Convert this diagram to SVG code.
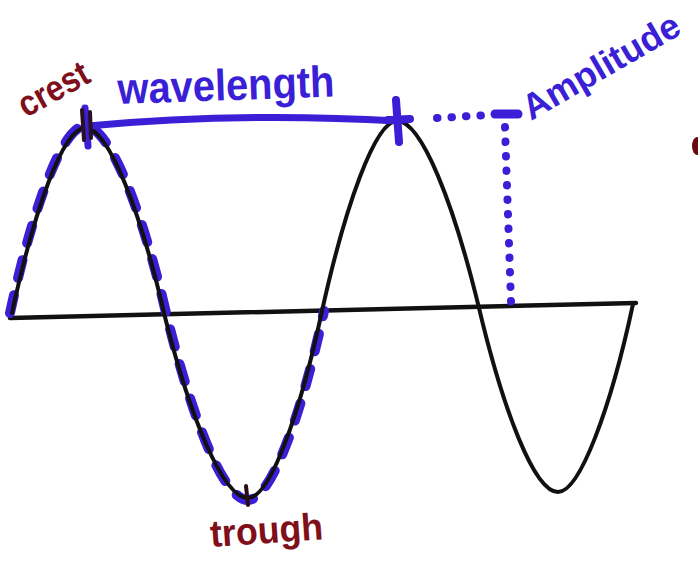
<svg xmlns="http://www.w3.org/2000/svg" width="698" height="567" viewBox="0 0 698 567">
<style>
.wave{fill:none;stroke:#111;stroke-width:4;stroke-linecap:round;stroke-linejoin:round}
.axis{fill:none;stroke:#111;stroke-width:4.5;stroke-linecap:round}
.blue{fill:none;stroke:#3a1fd6;stroke-linecap:round;stroke-linejoin:round}
.dash{stroke-width:10;stroke-dasharray:18 18}
.dots{stroke-width:8;stroke-dasharray:0.5 14}
.lbl{font-family:"Liberation Sans",Arial,sans-serif;font-weight:bold}
.red{fill:#7f0f1a}
.bl{fill:#3a1fd6}
</style>
<rect width="698" height="567" fill="#fff"/>
<g id="axis">
<line class="axis" x1="10" y1="318" x2="636" y2="303"/>
</g>
<g id="dashed-cycle">
<path class="blue dash" d="M10,313 C32,211 62,126 85,126 C110,126 143,213 167,317 C192,417 223,500 248,500 C271,500 302,414 324,311"/>
</g>
<g id="wave">
<path class="wave" d="M12,313 C34,211 63,128 85,128 C109,128 141,213 165,317 C190,417 223,498 248,498 C270,498 300,414 322,311 C345,207 375,121 397,121 C422,121 454,205 479,308 C503,409 534,492 558,492 C580,492 611,407 633,304"/>
</g>
<g id="connectors">
<path class="blue" stroke-width="7" d="M88,126 Q240,112 398,121"/>
<path class="blue dots" d="M437,118 L490,115"/>
<path class="blue" stroke-width="9" d="M495,114 L518,114"/>
<path class="blue dots" d="M505,127 L511,302"/>
</g>
<g id="crest-marks">
<path class="blue" stroke-width="7" d="M85,108 L88,146"/>
<path fill="none" stroke="#2a1020" stroke-width="4" stroke-linecap="round" d="M82,110 L84,140 M90,112 L91,138"/>
<path class="blue" stroke-width="8" d="M396,100 L399,142 M388,120 L410,119"/>
<path fill="none" stroke="#2a0a14" stroke-width="4" stroke-linecap="round" d="M246,486 L248,505"/>
</g>
<g id="label-crest">
<text class="lbl red" x="26" y="118" font-size="36" textLength="76" lengthAdjust="spacingAndGlyphs" transform="rotate(-29 26 118)">crest</text>
</g>
<g id="label-wavelength">
<text class="lbl bl" x="118" y="104" font-size="44" textLength="217" lengthAdjust="spacingAndGlyphs" transform="rotate(-2 118 104)">wavelength</text>
</g>
<g id="label-amplitude">
<text class="lbl bl" x="531" y="121" font-size="36" textLength="176" lengthAdjust="spacingAndGlyphs" transform="rotate(-30 531 121)">Amplitude</text>
</g>
<g id="label-trough">
<text class="lbl red" x="211" y="547" font-size="38" textLength="113" lengthAdjust="spacingAndGlyphs" transform="rotate(-4 211 547)">trough</text>
</g>
<ellipse cx="697" cy="146" rx="5" ry="9" fill="#6a0a10"/>
</svg>
